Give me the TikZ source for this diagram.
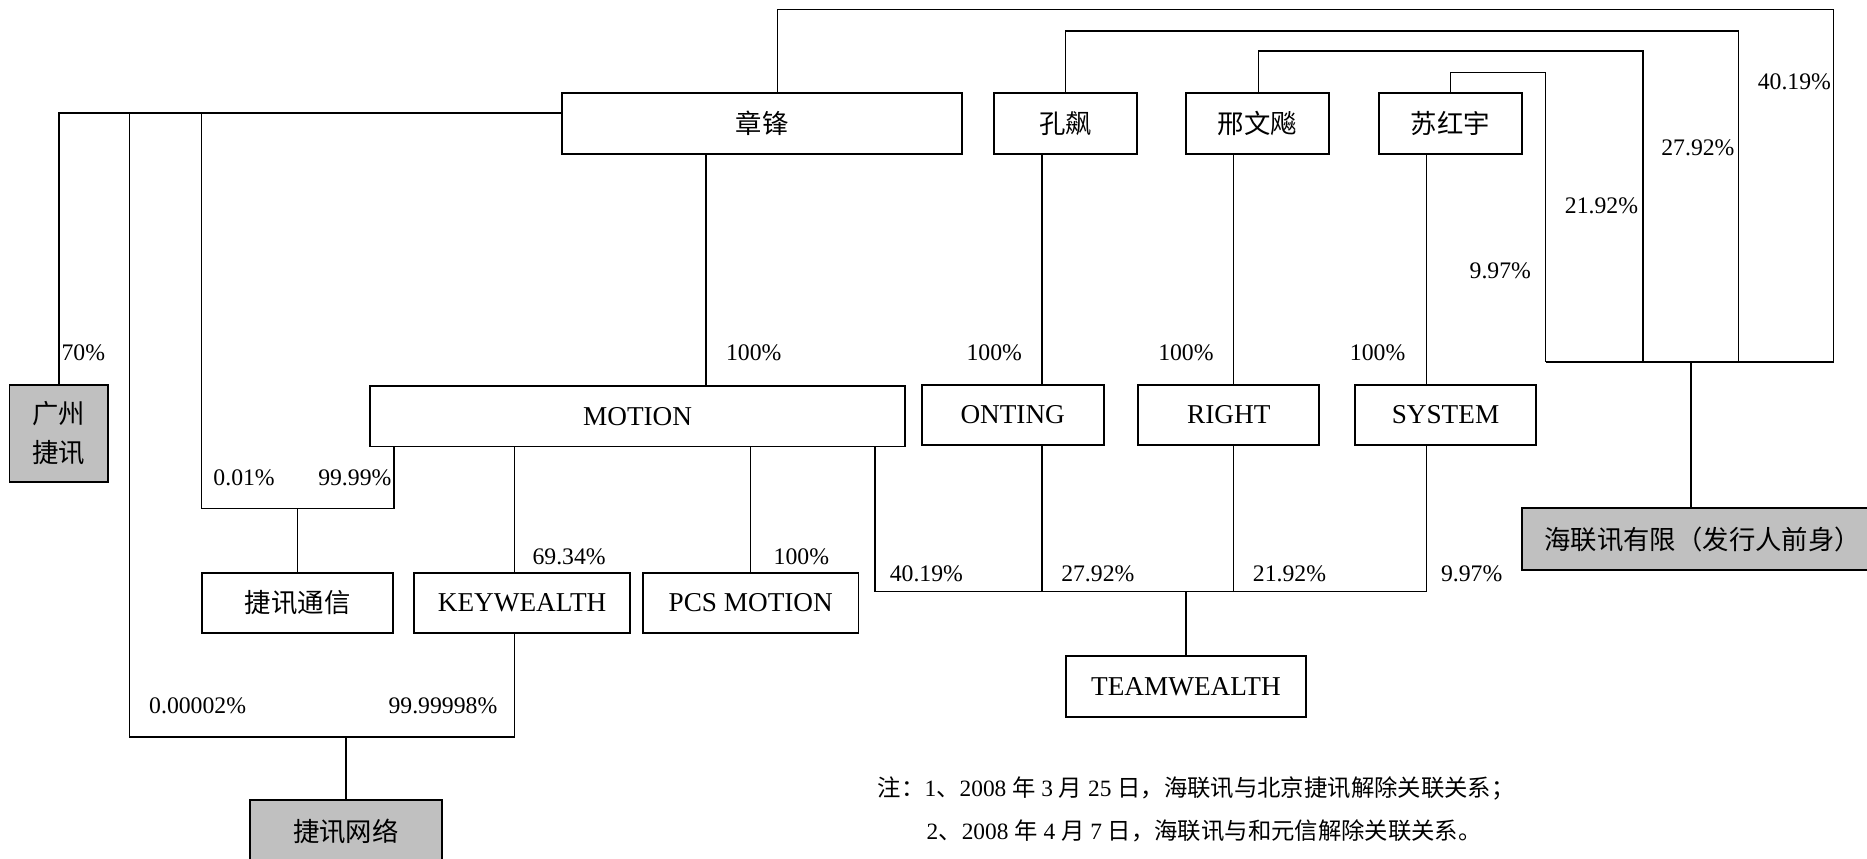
\documentclass[tikz,border=0pt]{standalone}
\usepackage{fontspec}
\setmainfont{Liberation Serif}
\newfontfamily\cjk{Noto Sans CJK SC}
\definecolor{boxgray}{RGB}{192,192,192}

\begin{document}
\begin{tikzpicture}[
  x=0.023814cm, y=-0.023814cm,
  box/.style={draw,line width=1.1pt,minimum height=1.2145cm,inner sep=0pt,font=\fontsize{15.5}{18}\selectfont},
  cbox/.style={box,font=\cjk\fontsize{15}{18}\selectfont},
  grey/.style={fill=boxgray},
  pct/.style={inner sep=0pt,font=\fontsize{13.5}{16}\selectfont},
  note/.style={inner sep=0pt,anchor=west,font=\fontsize{13.3}{16}\selectfont},
  link/.style={line width=0.8pt}
]
\useasboundingbox (0,0) rectangle (1568,721);
\clip (0,0) rectangle (1568,721);

\node[cbox,minimum width=8.001cm] (zhang) at (640,103.5) {章锋};
\node[cbox,minimum width=2.858cm] (kong) at (895,103.5) {孔飙};
\node[cbox,minimum width=2.858cm] (xing) at (1056,103.5) {邢文飚};
\node[cbox,minimum width=2.858cm] (su) at (1218,103.5) {苏红宇};
\node[cbox,grey,minimum width=1.977cm,minimum height=1.953cm,align=center,font=\cjk\fontsize{15}{22.3}\selectfont] (gzjx) at (49.5,364) {广州\\捷讯};
\node[box,minimum width=10.692cm] (motion) at (535.5,349.5) {MOTION};
\node[box,minimum width=3.644cm] (onting) at (850.5,348.5) {ONTING};
\node[box,minimum width=3.62cm] (rightco) at (1032,348.5) {RIGHT};
\node[box,minimum width=3.62cm] (systemco) at (1214,348.5) {SYSTEM};
\node[cbox,grey,minimum width=7.239cm,minimum height=1.238cm] (hlx) at (1430,453) {海联讯有限（发行人前身）};
\node[cbox,minimum width=3.81cm] (jxtx) at (250,506.5) {捷讯通信};
\node[box,minimum width=4.31cm] (keyw) at (438.5,506.5) {KEYWEALTH};
\node[box,minimum width=4.31cm] (pcs) at (630.5,506.5) {PCS MOTION};
\node[box,minimum width=4.81cm] (teamw) at (996,576.5) {TEAMWEALTH};
\node[cbox,grey,minimum width=3.834cm,minimum height=1.2383cm] (jxwl) at (290.5,698) {捷讯网络};

\coordinate (bz) at (653,8);
\coordinate (bk) at (895,26);
\coordinate (bx) at (1057,43);
\coordinate (bs) at (1218,61);
\coordinate (h1) at (1540,304);
\coordinate (h2) at (1460,304);
\coordinate (h3) at (1380,304);
\coordinate (h4) at (1298,304);
\coordinate (hb) at (1420,304);
\coordinate (lz) at (49,95);
\coordinate (tb1) at (169,427);
\coordinate (tb2) at (331,427);
\coordinate (wb1) at (109,619);
\coordinate (wb2) at (432,619);
\coordinate (zm) at (593,324);
\coordinate (tw1) at (735,497);
\coordinate (tw2) at (875,497);
\coordinate (tw3) at (1036,497);
\coordinate (tw4) at (1198,497);

\draw[link] (zhang.north -| bz) -- (bz) -| (h1);
\draw[link] (kong.north) -- (bk) -| (h2);
\draw[link] (xing.north -| bx) -- (bx) -| (h3);
\draw[link] (su.north) -- (bs) -| (h4);
\draw[link] (h4) -- (h1);
\draw[link] (hb) -- (hb |- hlx.north);

\draw[link] (zhang.west |- lz) -| (gzjx.north);
\draw[link] (lz -| tb1) -- (tb1) -- (tb2) -- (motion.south -| tb2);
\draw[link] (lz -| wb1) -- (wb1) -- (wb2) -- (keyw.south -| wb2);
\draw[link] (jxtx.north) -- (jxtx.north |- tb1);
\draw[link] (jxwl.north) -- (jxwl.north |- wb1);
\draw[link] (motion.south -| wb2) -- (keyw.north -| wb2);
\draw[link] (motion.south -| pcs.north) -- (pcs.north);
\draw[link] (zhang.south -| zm) -- (motion.north -| zm);

\draw[link] (kong.south -| tw2) -- (onting.north -| tw2);
\draw[link] (xing.south -| tw3) -- (rightco.north -| tw3);
\draw[link] (su.south -| tw4) -- (systemco.north -| tw4);
\draw[link] (motion.south -| tw1) -- (tw1) -- (tw4) -- (systemco.south -| tw4);
\draw[link] (onting.south -| tw2) -- (tw2);
\draw[link] (rightco.south -| tw3) -- (tw3);
\draw[link] (teamw.north) -- (teamw.north |- tw1);

\node[pct] (p70) at (70,296) {70\%};
\node[pct] (pmo) at (633,296) {100\%};
\node[pct] (pon) at (835,296) {100\%};
\node[pct] (pri) at (996,296) {100\%};
\node[pct] (psy) at (1157,296) {100\%};
\node[pct] (hz) at (1507,69) {40.19\%};
\node[pct] (hk) at (1426,124) {27.92\%};
\node[pct] (hx) at (1345,173) {21.92\%};
\node[pct] (hs) at (1260,227) {9.97\%};
\node[pct] (tz) at (205,401) {0.01\%};
\node[pct] (tm) at (298,401) {99.99\%};
\node[pct] (pkw) at (478,468) {69.34\%};
\node[pct] (ppc) at (673,468) {100\%};
\node[pct] (tmo) at (778,482) {40.19\%};
\node[pct] (ton) at (922,482) {27.92\%};
\node[pct] (tri) at (1083,482) {21.92\%};
\node[pct] (tsy) at (1236,482) {9.97\%};
\node[pct] (wz) at (166,593) {0.00002\%};
\node[pct] (wk) at (372,593) {99.99998\%};

\node[note] (note1) at (737,662) {{\cjk 注：}1{\cjk 、}2008 {\cjk 年} 3 {\cjk 月} 25 {\cjk 日，海联讯与北京捷讯解除关联关系；}};
\node[note] (note2) at (778,698) {2{\cjk 、}2008 {\cjk 年} 4 {\cjk 月} 7 {\cjk 日，海联讯与和元信解除关联关系。}};
\end{tikzpicture}
\end{document}
